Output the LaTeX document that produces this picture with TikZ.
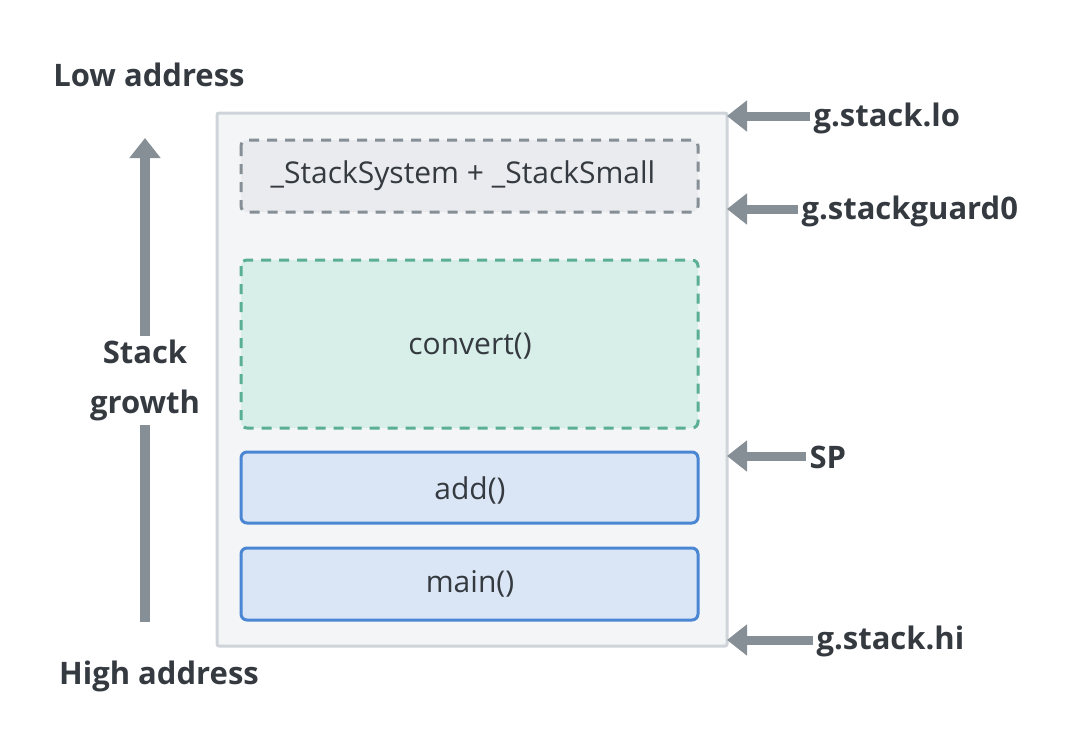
\documentclass[tikz,border=0pt]{standalone}
\usepackage{fontspec}
\setmainfont{Open Sans}
\usetikzlibrary{arrows.meta}
\definecolor{txt}{HTML}{343A40}
\definecolor{outerfill}{HTML}{F3F5F7}
\definecolor{outerdraw}{HTML}{CED4DA}
\definecolor{grayfill}{HTML}{E9EBEE}
\definecolor{graydraw}{HTML}{868E96}
\definecolor{greenfill}{HTML}{D7EFE8}
\definecolor{greendraw}{HTML}{5AAE94}
\definecolor{bluefill}{HTML}{DAE6F5}
\definecolor{bluedraw}{HTML}{4A86D4}
\definecolor{arrowc}{HTML}{868E96}
\begin{document}
\begin{tikzpicture}[x=1pt,y=-1pt,
  boxtext/.style={font=\fontsize{30}{36}\selectfont, text=txt},
  sidelabel/.style={font=\bfseries\fontsize{31}{40}\selectfont, text=txt},
  framebox/.style={rounded corners=6pt, line width=3pt},
  ptr/.style={draw=arrowc, line width=9pt, -{Triangle[length=20pt,width=30pt]}},
]
\useasboundingbox (0,0) rectangle (1080,748);
% outer stack
\draw[fill=outerfill, draw=outerdraw, line width=3pt, rounded corners=2pt] (217,113) rectangle (727,646);
% inner frames
\draw[framebox, fill=grayfill, draw=graydraw, dash pattern=on 10pt off 8pt] (241,140) rectangle (698,212);
\node[boxtext] (sys) at (463,176) {\_StackSystem + \_StackSmall};
\draw[framebox, fill=greenfill, draw=greendraw, dash pattern=on 10pt off 8pt] (241,260) rectangle (698,428);
\node[boxtext] (conv) at (470,346) {convert()};
\draw[framebox, fill=bluefill, draw=bluedraw] (241,452) rectangle (698,523);
\node[boxtext] (add) at (470,490) {add()};
\draw[framebox, fill=bluefill, draw=bluedraw] (241,548) rectangle (698,620);
\node[boxtext] (main) at (470,584) {main()};
% left labels
\node[sidelabel] (low) at (149,75) {Low address};
\node[sidelabel] (high) at (159,676) {High address};
\node[sidelabel, align=center, font=\bfseries\fontsize{31}{50}\selectfont] (growth) at (145,380) {Stack\\growth};
\coordinate (gtop) at (145,138);
\coordinate (gbot) at (145,622);
\draw[draw=arrowc, line width=10pt] (gbot) -- (145,425);
\draw[ptr, line width=10pt] (145,336) -- (gtop);
% right labels
\node[sidelabel, anchor=west] (lo) at (810,118) {g.stack.lo};
\node[sidelabel, anchor=west] (guard) at (798,211) {g.stackguard0};
\node[sidelabel, anchor=west] (sp) at (806,457) {SP};
\node[sidelabel, anchor=west] (hi) at (813,641) {g.stack.hi};
\coordinate (tlo) at (727,116);
\coordinate (tguard) at (727,209);
\coordinate (tsp) at (727,456);
\coordinate (thi) at (727,640);
\draw[ptr] (lo.west) ++(0,-2) -- (tlo);
\draw[ptr] (guard.west) ++(0,-2) -- (tguard);
\draw[ptr] (sp.west) ++(0,-1) -- (tsp);
\draw[ptr] (hi.west) ++(0,-1) -- (thi);
\end{tikzpicture}
\end{document}
